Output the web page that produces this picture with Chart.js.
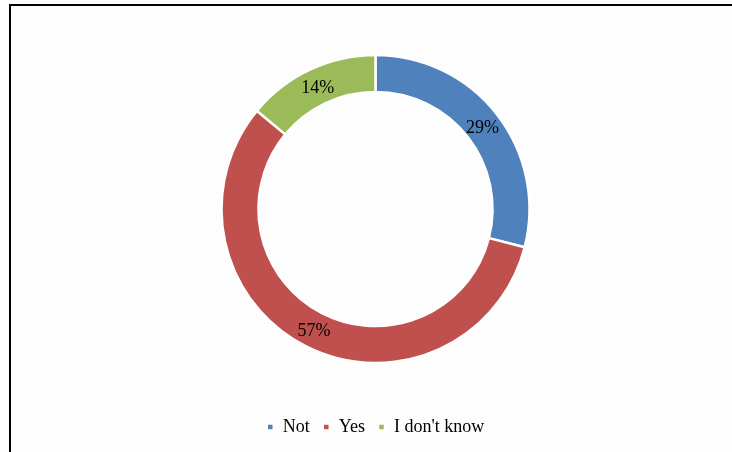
<!DOCTYPE html>
<html>
<head>
<meta charset="utf-8">
<script src="https://cdn.jsdelivr.net/npm/chart.js@4/dist/chart.umd.min.js"></script>
<style>
  html, body { margin: 0; padding: 0; background: #fdfdfd; }
  #wrap { position: relative; width: 732px; height: 452px; overflow: hidden; }
  #frame { position: absolute; left: 9px; top: 4px; right: -10px; bottom: -10px;
           border-left: 2px solid #000; border-top: 2px solid #000; pointer-events: none; }
  canvas { position: absolute; left: 0; top: 0; }
</style>
</head>
<body>
<div id="wrap">
  <canvas id="chart" width="732" height="452"></canvas>
  <div id="frame"></div>
</div>
<script>
// Survey answers, share of respondents (%)
const categories = ["Not", "Yes", "I don't know"];
const shares = [29, 57, 14];
const sliceColors = ["#4F81BD", "#C0504D", "#9BBB59"];

// Writes each percentage in the middle of its ring segment
const sliceLabels = {
  id: 'sliceLabels',
  afterDatasetsDraw(chart) {
    const ctx = chart.ctx;
    const meta = chart.getDatasetMeta(0);
    ctx.save();
    ctx.font = '18px "Liberation Serif", "Times New Roman", serif';
    ctx.fillStyle = '#000';
    ctx.textAlign = 'center';
    ctx.textBaseline = 'middle';
    meta.data.forEach((arc, i) => {
      const p = arc.tooltipPosition();
      ctx.fillText(chart.data.datasets[0].data[i] + '%', p.x, p.y + 2);
    });
    ctx.restore();
  }
};

new Chart(document.getElementById('chart'), {
  type: 'doughnut',
  data: {
    labels: categories,
    datasets: [{
      data: shares,
      backgroundColor: sliceColors,
      borderColor: '#ffffff',
      borderWidth: 2.5,
      radius: 154,
      cutout: '76%'
    }]
  },
  options: {
    responsive: false,
    animation: false,
    layout: { padding: { top: 13, bottom: 6, left: 19, right: 0 } },
    plugins: {
      tooltip: { enabled: false },
      legend: {
        position: 'bottom',
        labels: {
          boxWidth: 7,
          boxHeight: 7,
          padding: 13,
          color: '#000',
          font: { family: '"Liberation Serif", "Times New Roman", serif', size: 18 }
        }
      }
    }
  },
  plugins: [sliceLabels]
});
</script>
</body>
</html>
